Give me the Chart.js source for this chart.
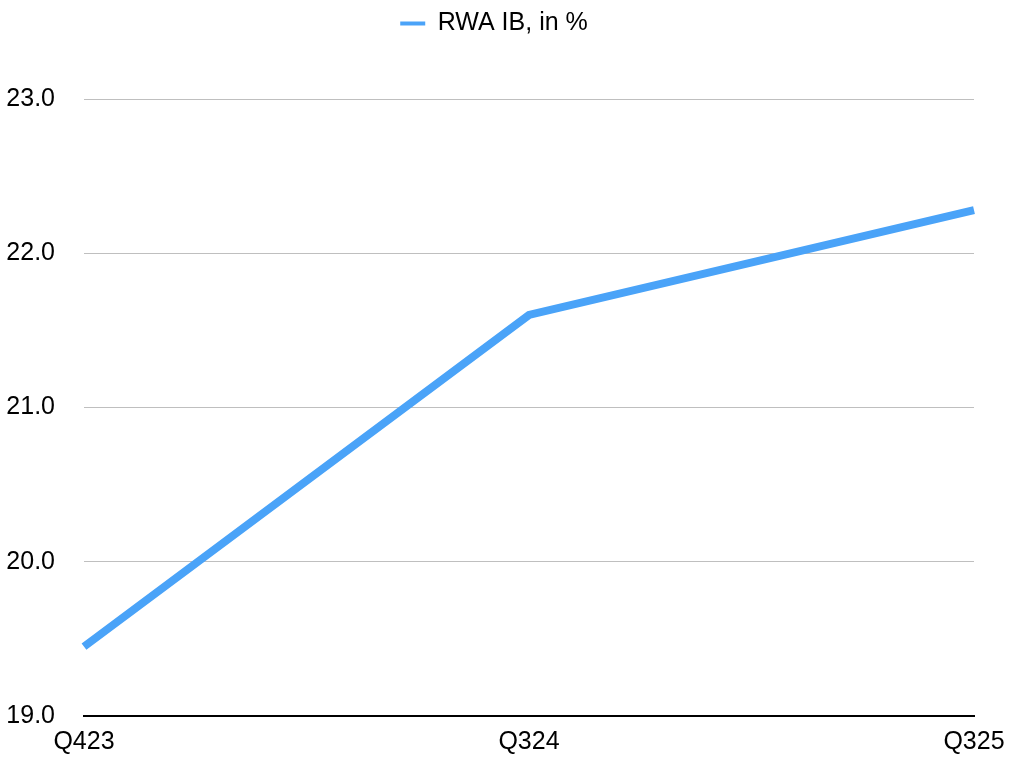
<!DOCTYPE html>
<html>
<head>
<meta charset="utf-8">
<script src="https://cdn.jsdelivr.net/npm/chart.js@4.4.0/dist/chart.umd.min.js"></script>
<style>
html,body{margin:0;padding:0;background:#fff;}
#wrap{width:1013px;height:784px;}
</style>
</head>
<body>
<div id="wrap"><canvas id="c" width="1013" height="784"></canvas></div>
<script>
const categories = ["Q423", "Q324", "Q325"];
const rwaIB = [19.45, 21.60, 22.28];
const seriesLabel = "RWA IB, in %";
const yMin = 19, yMax = 23, yStep = 1;

const FONT = "'Liberation Sans', Arial, Helvetica, sans-serif";
const LINE_COLOR = "#4aa3f8";

const legendGap = {
  id: 'legendGap',
  beforeInit(chart) {
    const lg = chart.legend;
    if (!lg) return;
    const f = lg.fit;
    lg.fit = function() { f.call(this); this.height = 99; };
    const d = lg.draw;
    lg.draw = function() {
      const ctx = this.ctx;
      ctx.save();
      ctx.translate(7, 1);
      d.call(this);
      ctx.restore();
    };
  }
};

new Chart(document.getElementById('c'), {
  type: 'line',
  data: {
    labels: categories,
    datasets: [{
      label: seriesLabel,
      data: rwaIB,
      borderColor: LINE_COLOR,
      backgroundColor: LINE_COLOR,
      borderWidth: 8,
      borderCapStyle: 'butt',
      borderJoinStyle: 'miter',
      pointRadius: 0,
      pointHoverRadius: 0,
      tension: 0,
      fill: false
    }]
  },
  options: {
    responsive: false,
    animation: false,
    devicePixelRatio: 1,
    layout: { padding: { left: 0, right: 39, top: 0, bottom: 0 } },
    plugins: {
      tooltip: { enabled: false },
      legend: {
        display: true,
        position: 'top',
        labels: {
          color: '#000',
          font: { family: FONT, size: 25 },
          boxWidth: 25,
          boxHeight: 4,
          padding: 10,
          generateLabels(chart) {
            return chart.data.datasets.map((ds, i) => ({
              text: ds.label,
              fillStyle: ds.borderColor,
              strokeStyle: ds.borderColor,
              lineWidth: 0,
              hidden: false,
              datasetIndex: i,
              fontColor: '#000'
            }));
          }
        }
      }
    },
    scales: {
      x: {
        type: 'category',
        offset: false,
        grid: { display: false, drawTicks: false },
        border: { display: true, color: '#000', width: 2 },
        ticks: {
          color: '#000',
          font: { family: FONT, size: 25 },
          padding: 11,
          maxRotation: 0,
          autoSkip: false
        },
        afterFit(scale) { scale.height = 68; scale.paddingLeft = 0; scale.paddingRight = 0; }
      },
      y: {
        min: yMin,
        max: yMax,
        grid: { color: '#bfbfbf', lineWidth: 1, drawTicks: false },
        border: { display: false },
        ticks: {
          stepSize: yStep,
          color: '#000',
          font: { family: FONT, size: 25 },
          padding: 29,
          callback: v => Number(v).toFixed(1)
        },
        afterFit(scale) { scale.width = 84; }
      }
    }
  },
  plugins: [legendGap]
});
</script>
</body>
</html>
